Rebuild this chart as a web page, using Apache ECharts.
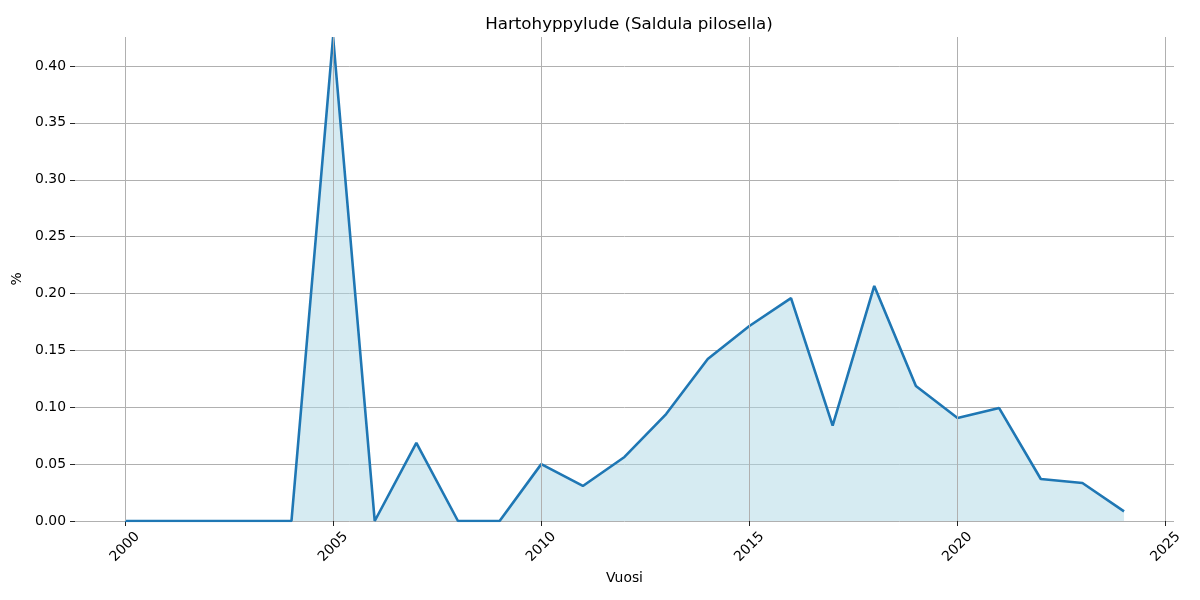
<!DOCTYPE html>
<html>
<head>
<meta charset="utf-8">
<script src="https://cdn.jsdelivr.net/npm/echarts@6/dist/echarts.min.js"></script>
<style>html,body{margin:0;padding:0;background:#fff}#c{width:1200px;height:600px}</style>
</head>
<body>
<div id="c"></div>
<script>
const years = [2000,2001,2002,2003,2004,2005,2006,2007,2008,2009,2010,2011,2012,2013,2014,2015,2016,2017,2018,2019,2020,2021,2022,2023,2024];
const values = [0,0,0,0,0,0.4255,0,0.0686,0,0,0.050,0.0308,0.0563,0.094,0.1424,0.1714,0.196,0.0838,0.2066,0.1187,0.0905,0.0993,0.0369,0.0334,0.0085];
const xTicks = [2000,2005,2010,2015,2020,2025];
const yMax = 0.4255;

const font = 'DejaVu Sans';
const chart = echarts.init(document.getElementById('c'));
chart.setOption({
  animation: false,
  backgroundColor: '#fff',
  title: {
    text: 'Hartohyppylude (Saldula pilosella)',
    left: 624, textAlign: 'center', top: 11,
    textStyle: {fontFamily: font, fontSize: 16.7, fontWeight: 'normal', color: '#000'}
  },
  grid: {left: 75, top: 37, width: 1099, height: 484},
  xAxis: {
    type: 'value', min: 1998.8, max: 2025.2,
    name: 'Vuosi', nameLocation: 'middle', nameGap: 49,
    nameTextStyle: {fontFamily: font, fontSize: 13.9, color: '#000'},
    axisLine: {show: false},
    axisTick: {show: true, customValues: xTicks, length: 5, lineStyle: {color: '#222'}},
    axisLabel: {customValues: xTicks, rotate: 45, align: 'center', verticalAlign: 'middle', margin: 26,
      fontFamily: font, fontSize: 13.9, color: '#000', formatter: v => String(v)},
    splitLine: {show: false}
  },
  yAxis: {
    type: 'value', min: 0, max: yMax, interval: 0.05,
    name: '%', nameLocation: 'middle', nameGap: 45,
    nameTextStyle: {fontFamily: font, fontSize: 13.9, color: '#000'},
    axisLine: {show: false},
    axisTick: {show: true, length: 5, lineStyle: {color: '#222'}},
    axisLabel: {fontFamily: font, fontSize: 13.9, color: '#000', margin: 9, showMaxLabel: false,
      formatter: v => v.toFixed(2)},
    splitLine: {show: true, showMaxLine: false, lineStyle: {color: '#b0b0b0', width: 1}}
  },
  series: [
    {
      type: 'line', data: [], z: 1, silent: true,
      markLine: {
        silent: true, symbol: 'none', animation: false,
        label: {show: false},
        lineStyle: {color: '#b0b0b0', width: 1, type: 'solid'},
        data: xTicks.map(t => ({xAxis: t}))
      }
    },
    {
      type: 'line', z: 2,
      data: years.map((y, i) => [y, values[i]]),
      showSymbol: false, symbol: 'none',
      lineStyle: {color: '#1f77b4', width: 2.6},
      areaStyle: {color: '#add8e6', opacity: 0.5, origin: 'start'}
    }
  ]
});
</script>
</body>
</html>
